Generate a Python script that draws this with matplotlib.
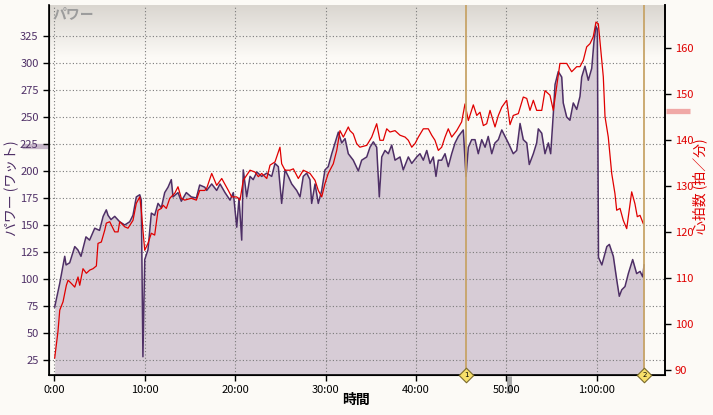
import numpy as np
import matplotlib
matplotlib.use("Agg")
import matplotlib.pyplot as plt
from matplotlib.transforms import blended_transform_factory

plt.rcParams['font.family'] = ['Noto Sans CJK JP', 'DejaVu Sans']

# ---- data (time in minutes) ----
power_t = [0.04, 0.6, 1.15, 1.3, 1.7, 2.26, 2.6, 2.95, 3.5, 3.9, 4.47, 5.0, 5.4, 5.75, 5.94, 6.27, 6.68,
           7.23, 7.79, 8.34, 8.7, 9.07, 9.45, 9.62, 9.8, 10.0, 10.36, 10.73, 11.1, 11.47, 11.84, 12.21,
           12.58, 12.94, 13.13, 13.68, 14.05, 14.6, 15.15, 15.71, 16.08, 16.64, 16.86, 17.41, 17.96,
           18.33, 18.88, 19.44, 19.8, 20.18, 20.43, 20.73, 20.9, 21.28, 21.65, 22.0, 22.4, 22.94, 23.5,
           24.05, 24.41, 24.78, 25.15, 25.52, 25.88, 26.26, 26.81, 27.18, 27.54, 27.92, 28.28, 28.47,
           28.84, 29.2, 29.58, 29.94, 30.3, 30.69, 31.05, 31.42, 31.79, 32.16, 32.52, 33.07, 33.63, 34.0,
           34.56, 34.92, 35.29, 35.66, 35.95, 36.22, 36.58, 36.95, 37.32, 37.69, 38.24, 38.6, 39.16,
           39.54, 40.09, 40.45, 40.82, 41.2, 41.56, 41.92, 42.22, 42.48, 42.85, 43.22, 43.58, 43.96,
           44.33, 44.69, 45.24, 45.54, 45.8, 46.17, 46.54, 46.9, 47.28, 47.65, 48.0, 48.39, 48.75, 49.12,
           49.5, 49.86, 50.22, 50.77, 51.15, 51.52, 51.88, 52.26, 52.54, 52.99, 53.36, 53.54, 53.92,
           54.28, 54.65, 54.91, 55.2, 55.39, 55.75, 56.13, 56.3, 56.68, 57.04, 57.41, 57.79, 58.15,
           58.34, 58.7, 59.07, 59.45, 59.7, 59.92, 60.07, 60.2, 60.57, 61.12, 61.4, 61.84, 62.22, 62.5,
           62.77, 63.13, 63.5, 63.98, 64.42, 64.8, 65.09, 65.24]
power_w = [74, 96, 121, 113, 115, 130, 127, 121, 139, 136, 147, 145, 158, 164, 159, 155, 158,
           153, 150, 153, 159, 176, 178, 173, 28, 118, 127, 161, 159, 170, 166, 180,
           185, 192, 176, 180, 172, 180, 176, 175, 187, 185, 182, 188, 182,
           188, 180, 173, 180, 148, 175, 136, 201, 176, 195, 192, 199, 195, 198,
           195, 207, 204, 170, 201, 195, 188, 182, 176, 195, 198, 192, 170,
           188, 170, 182, 201, 204, 216, 226, 236, 226, 230, 216, 210, 200, 210,
           213, 222, 227, 222, 176, 213, 219, 216, 224, 210, 213, 201, 213,
           207, 213, 216, 210, 219, 207, 213, 195, 210, 210, 216, 204, 216,
           226, 232, 238, 195, 222, 229, 229, 216, 229, 222, 232, 216, 226, 229,
           238, 232, 226, 216, 219, 244, 229, 226, 206, 216, 226, 239, 235,
           216, 226, 216, 253, 280, 292, 287, 263, 250, 247, 263, 257, 269,
           287, 297, 284, 295, 320, 334, 331, 120, 113, 130, 132, 121, 99, 84,
           90, 93, 105, 118, 105, 107, 102, 113]

hr_t = [0.04, 0.4, 0.6, 0.96, 1.33, 1.52, 1.88, 2.26, 2.62, 2.81, 3.17, 3.54, 3.92, 4.28, 4.65, 4.83,
        5.2, 5.58, 5.75, 6.13, 6.68, 7.05, 7.23, 7.79, 8.15, 8.7, 9.07, 9.45, 9.62, 9.8, 10.0, 10.36,
        10.73, 11.1, 11.47, 11.84, 12.03, 12.39, 12.77, 13.32, 13.68, 14.05, 14.42, 15.15, 15.71,
        16.08, 16.64, 16.86, 17.41, 17.96, 18.52, 19.25, 19.62, 20.18, 20.54, 20.9, 21.65, 22.2,
        22.57, 22.94, 23.5, 23.86, 24.41, 24.96, 25.15, 25.52, 26.07, 26.44, 26.99, 27.54, 28.28,
        28.84, 29.2, 29.58, 29.94, 30.3, 30.86, 31.24, 31.6, 31.97, 32.52, 32.7, 33.07, 33.44, 33.8,
        34.56, 35.11, 35.66, 36.02, 36.39, 36.77, 37.13, 37.69, 38.24, 38.8, 39.16, 39.54, 39.9,
        40.27, 40.82, 41.37, 41.75, 42.11, 42.48, 42.85, 43.22, 43.58, 43.96, 44.51, 45.06, 45.43,
        45.8, 46.35, 46.73, 47.09, 47.46, 47.83, 48.2, 48.75, 49.12, 49.5, 50.04, 50.41, 50.77,
        51.33, 51.88, 52.26, 52.62, 52.99, 53.36, 53.92, 54.28, 54.83, 55.2, 55.57, 55.93, 56.68,
        57.23, 57.79, 58.15, 58.52, 58.89, 59.26, 59.62, 59.92, 60.18, 60.73, 60.92, 61.28, 61.66,
        62.02, 62.21, 62.58, 62.94, 63.32, 63.6, 63.87, 64.23, 64.49, 64.79, 65.15]
hr_bpm = [92.6, 98.3, 103, 104.8, 108.4, 109.5, 108.8, 108, 110.2, 108.4, 112, 111, 111.7, 112, 112.6, 117.5,
          117.8, 120.4, 121.9, 122.2, 120, 120, 122.2, 121.1, 120.8, 122.5, 126.2, 127.6, 124.7, 120.4, 116, 117.5,
          119.7, 119.3, 124.7, 125.1, 125.8, 125.1, 127.3, 128.4, 129.8, 127.3, 126.9, 127.3, 126.9,
          129, 129, 129.5, 132.7, 130.1, 131.6, 129, 127.6, 127.6, 126.9, 131.2, 133.4, 133,
          132, 132.7, 131.6, 134.5, 135.2, 138.4, 134.8, 133.4, 133.4, 133.7, 131.6, 133.4, 132.7,
          131.2, 129, 127.6, 130.5, 132.7, 134.8, 137.7, 142, 140.6, 142.8, 142, 141.3, 139.2, 138.4,
          138.8, 140.6, 143.5, 139.9, 139.9, 142.4, 141.7, 142, 141, 140.6, 139.9, 138.4, 139.2,
          140.6, 142.4, 142.4, 141, 139.9, 137.7, 138.4, 140.6, 142.4, 140.6, 142, 143.9, 147.8,
          144.2, 147.6, 145.3, 146, 143.1, 143.5, 146.4, 142.8, 145.3, 147.1, 148.6, 143.3, 145.3,
          145.7, 149.3, 149, 146.4, 148.6, 146.4, 146.4, 150.7, 149.7, 146.4, 151.5, 156.6, 156.6,
          154.8, 155.9, 155.9, 157.3, 160.2, 160.9, 162.4, 165.6, 165.2, 153.7, 145, 140.6, 132.7,
          128.3, 124.7, 125.1, 122.5, 120.7, 124.7, 128.7, 126.1, 123.3, 123.6, 121.8]

power_ticks = [25, 50, 75, 100, 125, 150, 175, 200, 225, 250, 275, 300, 325]
hr_ticks = [90, 100, 110, 120, 130, 140, 150, 160]
time_ticks = [0, 10, 20, 30, 40, 50, 60]
time_labels = ['0:00', '10:00', '20:00', '30:00', '40:00', '50:00', '1:00:00']
lap_marks = [45.57, 65.26]
lap_names = ['1', '2']
power_avg = 223.6
hr_avg = 146.3
time_mark = 50.3

# ---- colors ----
BG = '#FCFAF6'
PURPLE = '#4E2F66'
FILL = '#D7CCD6'
RED = '#E00000'

fig = plt.figure(figsize=(7.13, 4.15), dpi=100, facecolor=BG)
ax = fig.add_axes([49/713, 40/415, (664.5-49)/713, 370/415])
ax.set_facecolor(BG)
ax.set_xlim(-0.59, 67.5)
ax.set_ylim(11.1, 353.7)

# top gradient
grad = np.linspace(0, 1, 100).reshape(-1, 1)
top_c = np.array([0xDA, 0xD6, 0xD0]) / 255
bg_c = np.array([0xFC, 0xFA, 0xF6]) / 255
img = top_c * (1 - grad)[..., None] ** 0 * 0  # placeholder
t = grad[..., 0]
img = (bg_c[None, :] * t[:, None] + top_c[None, :] * (1 - t[:, None]))
img = img.reshape(100, 1, 3)
ax.imshow(img, extent=[0, 1, 0.86, 1.0], transform=ax.transAxes, aspect='auto',
          zorder=0, origin='upper', interpolation='bilinear')

ax.fill_between(power_t, power_w, 0, color=FILL, lw=0, zorder=0.6)
ax.plot(power_t, power_w, color=PURPLE, lw=1.1, zorder=2)

ax.set_axisbelow('line')
ax.grid(True, color='#7A7A7A', ls=(0, (1, 2)), lw=0.8)
ax.set_yticks(power_ticks)
ax.set_xticks(time_ticks)
ax.set_xticklabels(time_labels)
ax.tick_params(axis='y', colors='black', labelcolor=PURPLE, labelsize=8, length=4, width=1)
ax.tick_params(axis='x', colors='black', labelsize=8, length=4, width=1)
for s in ['top']:
    ax.spines[s].set_visible(False)
for s in ['left', 'bottom', 'right']:
    ax.spines[s].set_linewidth(1.2)

ax2 = ax.twinx()
ax2.set_ylim(88.9, 169.3)
ax2.set_yticks(hr_ticks)
ax2.tick_params(axis='y', colors='black', labelcolor=RED, labelsize=8, length=4, width=1)
ax2.spines['top'].set_visible(False)
ax2.spines['right'].set_linewidth(1.2)
ax2.plot(hr_t, hr_bpm, color=RED, lw=0.9, zorder=3)

# lap markers
for xm, nm in zip(lap_marks, lap_names):
    ax2.axvline(xm, color='#C7A468', lw=1.3, zorder=4)
    trans = blended_transform_factory(ax2.transData, ax2.transAxes)
    ax2.scatter([xm], [0], marker='D', s=55, facecolor='#F6DF6A', edgecolor='#7A6A2A',
                lw=0.8, transform=trans, clip_on=False, zorder=6)
    ax2.text(xm, 0, nm, transform=trans, fontsize=5, ha='center', va='center',
             color='black', zorder=7, family='DejaVu Sans')

# average markers
tl = blended_transform_factory(ax.transAxes, ax.transData)
ax.plot([-0.044, -0.002], [power_avg, power_avg], transform=tl, color='#C6B6C8', lw=3.8,
        clip_on=False, solid_capstyle='butt', zorder=0.5)
tr = blended_transform_factory(ax2.transAxes, ax2.transData)
ax2.plot([1.002, 1.042], [hr_avg, hr_avg], transform=tr, color='#F0A8A6', lw=3.8,
         clip_on=False, solid_capstyle='butt', zorder=0.5)
tb = blended_transform_factory(ax.transData, ax.transAxes)
ax.plot([time_mark, time_mark], [-0.004, -0.048], transform=tb, color='#A9A9A9', lw=3.6,
        clip_on=False, solid_capstyle='butt', zorder=0.5)

# texts
ax.text(0.006, 0.976, 'パワー', transform=ax.transAxes, fontsize=10, color='#9C9C9C',
        ha='left', va='center', fontweight='bold', style='italic', zorder=5)
fig.text(12/713, 1 - 188/415, 'パワー (ワット)', rotation=90, ha='center', va='center',
         fontsize=10, color=PURPLE)
fig.text(700/713, 1 - 186/415, '心拍数 (拍／分)', rotation=90, ha='center', va='center',
         fontsize=10, color=RED)
fig.text(356/713, 1 - 400/415, '時間', ha='center', va='center', fontsize=10,
         fontweight='bold', color='black')

fig.savefig('out.png', dpi=100, facecolor=BG)
